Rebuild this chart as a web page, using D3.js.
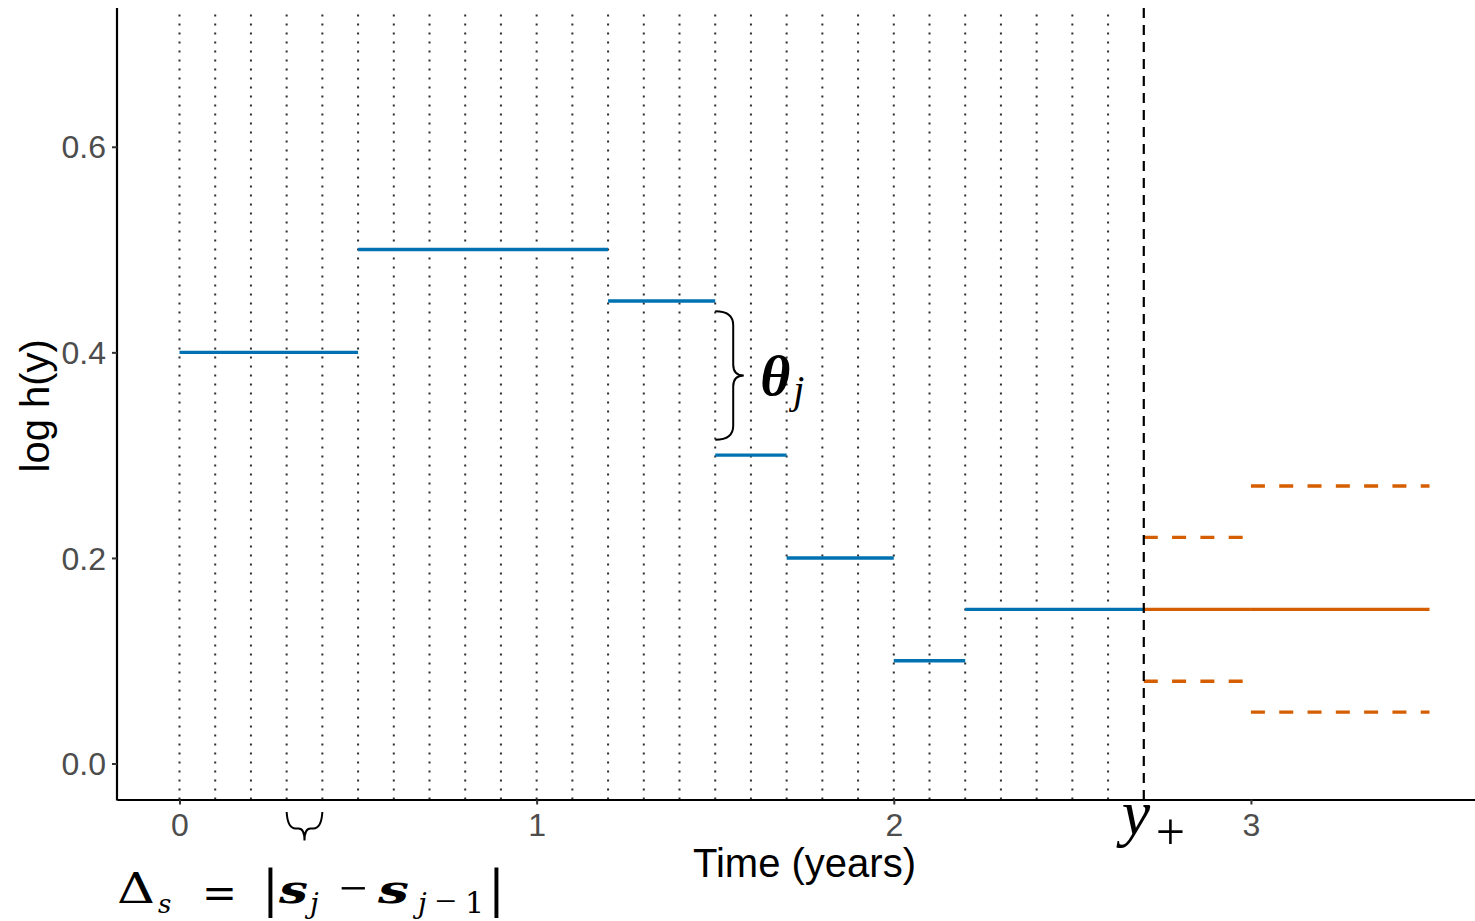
<!DOCTYPE html>
<html>
<head>
<meta charset="utf-8">
<script src="https://cdn.jsdelivr.net/npm/d3@7"></script>
<style>
  body { margin: 0; background: #fff; }
  svg { display: block; }
</style>
</head>
<body>
<svg id="chart" width="1475" height="921"></svg>
<script>
// Piecewise-constant log hazard over the observed follow-up
const knots = [0, 0.5, 1.2, 1.5, 1.7, 2.0, 2.2, 2.7];
const logHazard = [0.40, 0.50, 0.45, 0.30, 0.20, 0.10, 0.15];

// Candidate knot grid (years) drawn as dotted guides
const gridKnots = [0.0, 0.1, 0.2, 0.3, 0.4, 0.5, 0.6, 0.7, 0.8, 0.9,
                   1.0, 1.1, 1.2, 1.3, 1.4, 1.5, 1.6, 1.7, 1.8, 1.9,
                   2.0, 2.1, 2.2, 2.3, 2.4, 2.5, 2.6];

// End of follow-up, y+
const horizon = 2.7;

// Extrapolated hazard beyond y+ : intervals, central value and band
const extrapFrom = [2.7, 3.0];
const extrapTo = [3.0, 3.5];
const extrapCentre = [0.15, 0.15];
const extrapUpper = [0.22, 0.27];
const extrapLower = [0.08, 0.05];

// Axis breaks
const xTicks = [0, 1, 2, 3];
const yTicks = [0.0, 0.2, 0.4, 0.6];

const svg = d3.select("#chart");
svg.append("rect").attr("width", 1475).attr("height", 921).attr("fill", "#fff");

const x = d3.scaleLinear().domain([-0.175, 3.675]).range([117, 1492]);
const y = d3.scaleLinear().domain([-0.035, 0.735]).range([799.5, 8]);

const BLUE = "#0072B2", ORANGE = "#D55E00";
const sans = "'Liberation Sans', Arial, sans-serif";
const serif = "'Liberation Serif', 'Times New Roman', serif";
const dserif = "'DejaVu Serif', serif";

const plot = svg.append("g");

// dotted grid of candidate knots
plot.selectAll("line.grid").data(gridKnots).join("line")
  .attr("class", "grid")
  .attr("x1", d => x(d)).attr("x2", d => x(d))
  .attr("y1", y.range()[0]).attr("y2", y.range()[1])
  .attr("stroke", "#2e2e2e").attr("stroke-width", 2)
  .attr("stroke-dasharray", "2,7");

// fitted piecewise log hazard
const steps = logHazard.map((v, i) => ({ from: knots[i], to: knots[i + 1], v }));
plot.selectAll("line.step").data(steps).join("line")
  .attr("class", "step")
  .attr("x1", d => x(d.from)).attr("x2", d => x(d.to))
  .attr("y1", d => y(d.v)).attr("y2", d => y(d.v))
  .attr("stroke", BLUE).attr("stroke-width", 3.4);

// extrapolation: central estimate and dashed band
const extrap = extrapFrom.map((f, i) => ({
  from: f, to: extrapTo[i], c: extrapCentre[i], hi: extrapUpper[i], lo: extrapLower[i]
}));
plot.selectAll("line.centre").data(extrap).join("line")
  .attr("class", "centre")
  .attr("x1", d => x(d.from)).attr("x2", d => x(d.to))
  .attr("y1", d => y(d.c)).attr("y2", d => y(d.c))
  .attr("stroke", ORANGE).attr("stroke-width", 3.4);
const band = extrap.flatMap(d => [{ from: d.from, to: d.to, v: d.hi }, { from: d.from, to: d.to, v: d.lo }]);
plot.selectAll("line.band").data(band).join("line")
  .attr("class", "band")
  .attr("x1", d => x(d.from)).attr("x2", d => x(d.to))
  .attr("y1", d => y(d.v)).attr("y2", d => y(d.v))
  .attr("stroke", ORANGE).attr("stroke-width", 3.4)
  .attr("stroke-dasharray", "14,14.3");

// end of follow-up
plot.append("line")
  .attr("x1", x(horizon)).attr("x2", x(horizon))
  .attr("y1", y.range()[1]).attr("y2", y.range()[0])
  .attr("stroke", "#000").attr("stroke-width", 2.2)
  .attr("stroke-dasharray", "10,7");

// axes
const xAxis = svg.append("g").attr("transform", `translate(0,${y.range()[0]})`)
  .call(d3.axisBottom(x).tickValues(xTicks).tickFormat(d3.format("d"))
    .tickSize(5).tickSizeOuter(0).tickPadding(8));
const yAxis = svg.append("g").attr("transform", `translate(${x.range()[0]},0)`)
  .call(d3.axisLeft(y).tickValues(yTicks).tickFormat(d3.format(".1f"))
    .tickSize(5).tickSizeOuter(0).tickPadding(6));
[xAxis, yAxis].forEach(g => {
  g.select(".domain").attr("stroke", "#000").attr("stroke-width", 2.2);
  g.selectAll(".tick line").attr("stroke", "#333").attr("stroke-width", 2);
  g.selectAll(".tick text").attr("fill", "#4d4d4d")
    .style("font-family", sans).style("font-size", "32px");
});
xAxis.selectAll(".tick text").attr("dy", "0.72em");
yAxis.selectAll(".tick text").attr("dy", "0.35em");
// y axis line meets the x axis line at the corner
yAxis.select(".domain").attr("d", `M0,${y.range()[1]}V${y.range()[0] + 1.1}`);

// axis titles
svg.append("text")
  .attr("x", (x.range()[0] + x.range()[1]) / 2).attr("y", 877)
  .attr("text-anchor", "middle")
  .style("font-family", sans).style("font-size", "40px")
  .text("Time (years)");
svg.append("text")
  .attr("transform", `translate(49,${(y.range()[0] + y.range()[1]) / 2 + 2}) rotate(-90)`)
  .attr("text-anchor", "middle")
  .style("font-family", sans).style("font-size", "40px")
  .text("log h(y)");

// curly brace between two adjacent step levels
const bx0 = x(1.5), bx1 = x(1.58), byTop = y(0.44), byBot = y(0.315);
const bym = (byTop + byBot) / 2, bxs = bx0 + 0.63 * (bx1 - bx0), r1 = 14, r2 = 11;
svg.append("path")
  .attr("d", `M${bx0},${byTop} Q${bxs},${byTop} ${bxs},${byTop + r1}
              L${bxs},${bym - r2} Q${bxs},${bym} ${bx1},${bym}
              Q${bxs},${bym} ${bxs},${bym + r2}
              L${bxs},${byBot - r1} Q${bxs},${byBot} ${bx0},${byBot}`)
  .attr("fill", "none").attr("stroke", "#000").attr("stroke-width", 2);

// theta_j label
svg.append("text")
  .attr("x", x(1.626)).attr("y", y(0.3585))
  .style("font-family", serif).style("font-size", "58px")
  .style("font-weight", "bold").style("font-style", "italic")
  .text("θ");
svg.append("text")
  .attr("x", x(1.626) + 33).attr("y", y(0.3585) + 8)
  .style("font-family", serif).style("font-size", "40px").style("font-style", "italic")
  .text("j");

// small brace marking the width of one grid interval
const hx0 = x(0.3), hx1 = x(0.4), hxm = (hx0 + hx1) / 2;
const hTop = y.range()[0] + 12.5, hMid = y.range()[0] + 29, hTip = y.range()[0] + 41;
svg.append("path")
  .attr("d", `M${hx0},${hTop} Q${hx0 + 1},${hMid} ${hx0 + 9},${hMid}
              L${hxm - 6},${hMid} Q${hxm},${hMid} ${hxm},${hTip}
              Q${hxm},${hMid} ${hxm + 6},${hMid}
              L${hx1 - 9},${hMid} Q${hx1 - 1},${hMid} ${hx1},${hTop}`)
  .attr("fill", "none").attr("stroke", "#000").attr("stroke-width", 2);

// y+ label under the axis at the end of follow-up
svg.append("text")
  .attr("x", x(horizon) - 22).attr("y", 834)
  .style("font-family", serif).style("font-size", "64px").style("font-style", "italic")
  .text("y");
svg.append("text")
  .attr("x", x(horizon) + 12).attr("y", 849)
  .style("font-family", serif).style("font-size", "52px")
  .text("+");

// grid spacing formula
const f = svg.append("g").style("font-family", dserif).attr("fill", "#000");
const piece = (txt, px, py, size, opts = {}) => {
  const t = f.append("text").attr("x", px).attr("y", py)
    .style("font-size", size + "px")
    .style("font-style", opts.italic ? "italic" : "normal")
    .style("font-weight", opts.bold ? "bold" : "normal")
    .text(txt);
  if (opts.family) t.style("font-family", opts.family);
  if (opts.len) t.attr("textLength", opts.len).attr("lengthAdjust", "spacingAndGlyphs");
  return t;
};
piece("Δ", 117, 903, 42, { len: 38 });
piece("s", 158, 913, 26, { italic: true });
piece("=", 202, 908, 42, { len: 35 });
piece("|", 262, 906, 50);
piece("s", 279, 903, 40, { italic: true, bold: true, len: 29 });
piece("j", 310, 913, 28, { italic: true });
piece("−", 339, 905, 50, { family: serif });
piece("s", 378, 903, 40, { italic: true, bold: true, len: 31 });
piece("j", 418, 913, 28, { italic: true });
piece("−", 435, 914, 38, { family: serif });
piece("1", 465, 913, 30);
piece("|", 488, 906, 50);
</script>
</body>
</html>
